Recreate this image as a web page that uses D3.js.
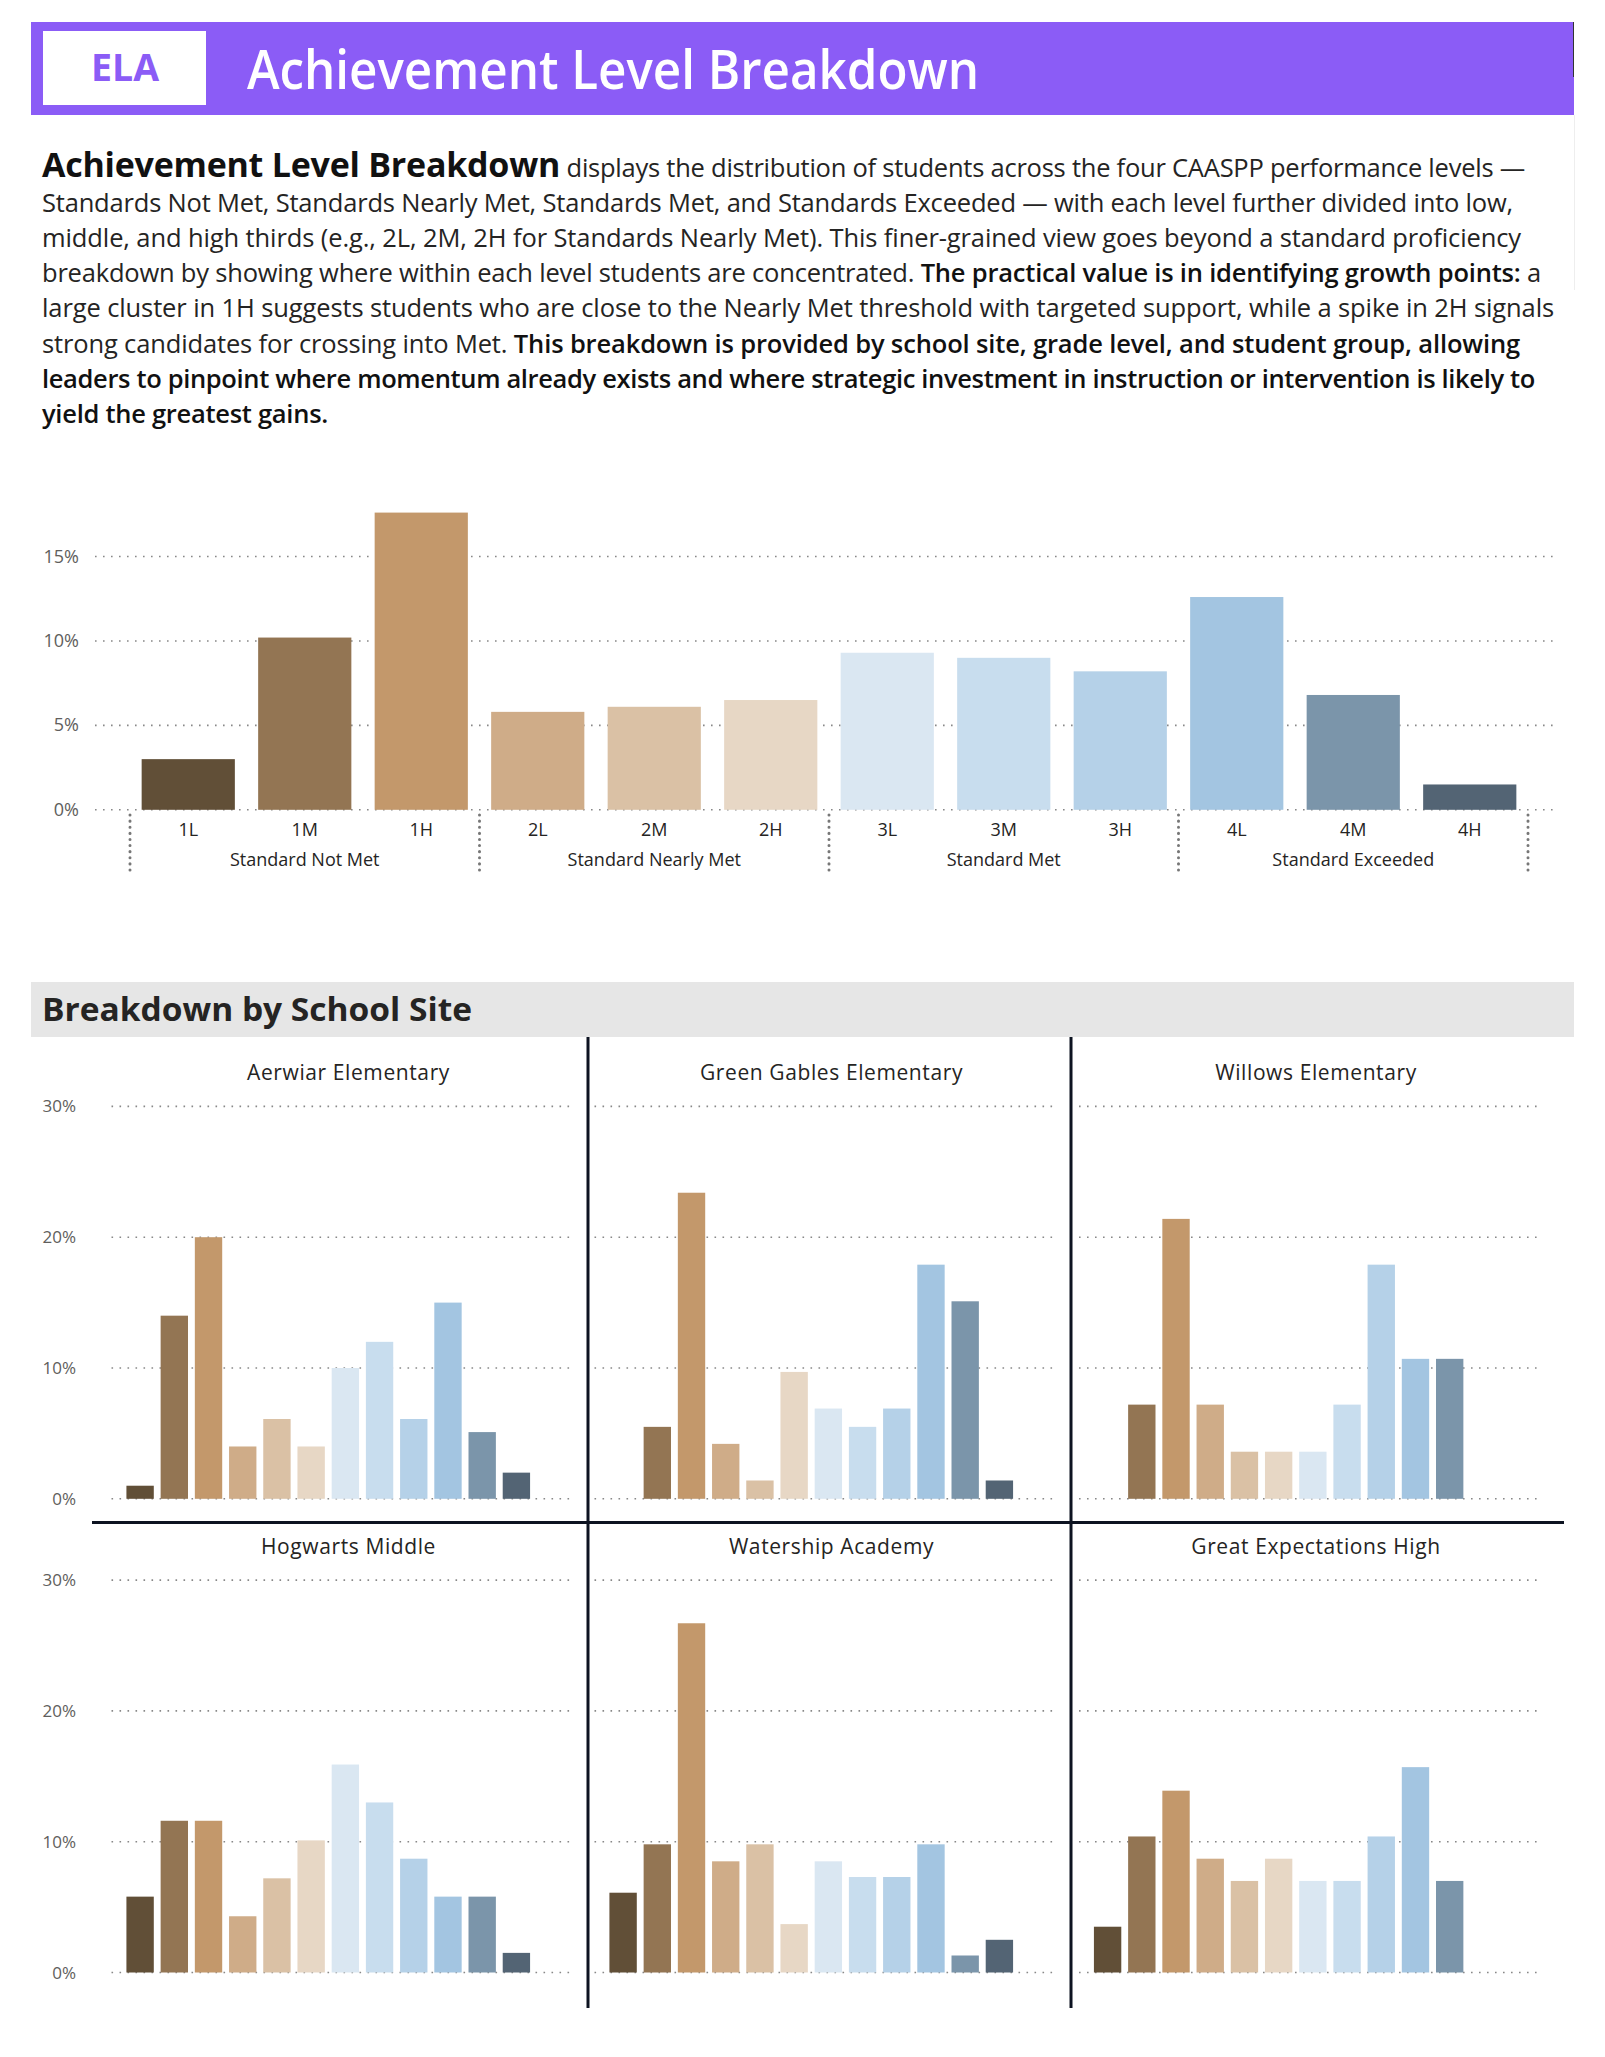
<!DOCTYPE html>
<html>
<head>
<meta charset="utf-8">
<script src="https://cdn.jsdelivr.net/npm/d3@7"></script>
<style>
  body { margin: 0; background: #fff; }
  svg text { font-family: "Open Sans", "Noto Sans", sans-serif; }
</style>
</head>
<body>
<svg id="page" width="1605" height="2057"></svg>
<script>
// categories and colours
var levels = ["1L", "1M", "1H", "2L", "2M", "2H", "3L", "3M", "3H", "4L", "4M", "4H"];
var groups = ["Standard Not Met", "Standard Nearly Met", "Standard Met", "Standard Exceeded"];
var colors = ["#614f37", "#937553", "#c3986b", "#cfac88", "#dac1a5", "#e7d7c5",
              "#dae7f2", "#c8ddee", "#b5d1e8", "#a3c5e1", "#7b95aa", "#536474"];

// overall distribution (%)
var overall = [3.0, 10.2, 17.6, 5.8, 6.1, 6.5, 9.3, 9.0, 8.2, 12.6, 6.8, 1.5];
var overallTicks = [0, 5, 10, 15];

// by school site (%)
var schools = ["Aerwiar Elementary", "Green Gables Elementary", "Willows Elementary",
               "Hogwarts Middle", "Watership Academy", "Great Expectations High"];
var aerwiar = [1.0, 14.0, 20.0, 4.0, 6.1, 4.0, 10.0, 12.0, 6.1, 15.0, 5.1, 2.0];
var greenGables = [0, 5.5, 23.4, 4.2, 1.4, 9.7, 6.9, 5.5, 6.9, 17.9, 15.1, 1.4];
var willows = [0, 7.2, 21.4, 7.2, 3.6, 3.6, 3.6, 7.2, 17.9, 10.7, 10.7, 0];
var hogwarts = [5.8, 11.6, 11.6, 4.3, 7.2, 10.1, 15.9, 13.0, 8.7, 5.8, 5.8, 1.5];
var watership = [6.1, 9.8, 26.7, 8.5, 9.8, 3.7, 8.5, 7.3, 7.3, 9.8, 1.3, 2.5];
var greatExpect = [3.5, 10.4, 13.9, 8.7, 7.0, 8.7, 7.0, 7.0, 10.4, 15.7, 7.0, 0];
var schoolTicks = [0, 10, 20, 30];

var svg = d3.select("#page");
var purple = "#8b5cf6";
var dark = "#252423";

// ---- header band
svg.append("rect").attr("x", 31).attr("y", 22).attr("width", 1543).attr("height", 93).attr("fill", purple);
svg.append("line").attr("x1", 1573.5).attr("x2", 1573.5).attr("y1", 22).attr("y2", 77)
    .attr("stroke", "#333").attr("stroke-width", 1);
svg.append("line").attr("x1", 1574.5).attr("x2", 1574.5).attr("y1", 115).attr("y2", 290)
    .attr("stroke", "#eee").attr("stroke-width", 1);
svg.append("rect").attr("x", 43).attr("y", 31).attr("width", 163).attr("height", 74).attr("fill", "#fff");
svg.append("text").attr("x", 125).attr("y", 81).attr("text-anchor", "middle")
    .attr("fill", purple).attr("font-size", 38).attr("font-weight", 700)
    .attr("textLength", 68).attr("lengthAdjust", "spacingAndGlyphs").text("ELA");
svg.append("text").attr("x", 247).attr("y", 89).attr("fill", "#fff").attr("font-size", 54)
    .attr("font-weight", 600)
    .attr("textLength", 732).attr("lengthAdjust", "spacingAndGlyphs").text("Achievement Level Breakdown");

// ---- description paragraph: each line fitted to the reference width
var para = [
  { w: 1483, parts: [["Achievement Level Breakdown", 700, 34], [" displays the distribution of students across the four CAASPP performance levels \u2014", 400, 25.5]] },
  { w: 1471, parts: [["Standards Not Met, Standards Nearly Met, Standards Met, and Standards Exceeded \u2014 with each level further divided into low,", 400, 25.5]] },
  { w: 1479, parts: [["middle, and high thirds (e.g., 2L, 2M, 2H for Standards Nearly Met). This finer-grained view goes beyond a standard proficiency", 400, 25.5]] },
  { w: 1499, parts: [["breakdown by showing where within each level students are concentrated. ", 400, 25.5], ["The practical value is in identifying growth points:", 600, 25.5], [" a", 400, 25.5]] },
  { w: 1512, parts: [["large cluster in 1H suggests students who are close to the Nearly Met threshold with targeted support, while a spike in 2H signals", 400, 25.5]] },
  { w: 1478, parts: [["strong candidates for crossing into Met. ", 400, 25.5], ["This breakdown is provided by school site, grade level, and student group, allowing", 600, 25.5]] },
  { w: 1493, parts: [["leaders to pinpoint where momentum already exists and where strategic investment in instruction or intervention is likely to", 600, 25.5]] },
  { w: 286, parts: [["yield the greatest gains.", 600, 25.5]] }
];
var paraG = svg.append("g");
para.forEach(function(line, i) {
  var yy = 177 + i * 35.1;
  var nodes = line.parts.map(function(p) {
    return paraG.append("text").attr("y", yy)
        .style("white-space", "pre")
        .attr("font-weight", p[1]).attr("font-size", p[2])
        .attr("fill", p[1] > 400 ? "#111" : "#252423").text(p[0]);
  });
  var natural = d3.sum(nodes, function(n) { return n.node().getComputedTextLength(); });
  var chars = d3.sum(line.parts, function(p) { return p[0].length; });
  var ls = (line.w - natural) / chars;
  var cx = 42;
  nodes.forEach(function(n, j) {
    n.attr("letter-spacing", ls).attr("x", cx);
    cx += n.node().getComputedTextLength();
  });
});

// ---- overall chart
var x = d3.scaleBand().domain(levels).range([130, 1528]).paddingInner(0.2).paddingOuter(0.1);
var y = d3.scaleLinear().domain([0, 15]).range([809.8, 556.5]);

svg.append("g").selectAll("line").data(overallTicks).enter().append("line")
    .attr("x1", 95).attr("x2", 1559)
    .attr("y1", function(d) { return y(d); }).attr("y2", function(d) { return y(d); })
    .attr("stroke", "#888").attr("stroke-width", 1.6).attr("stroke-dasharray", "1.6,6.4");

svg.append("g").selectAll("text").data(overallTicks).enter().append("text")
    .attr("x", 79).attr("y", function(d) { return y(d) + 6; })
    .attr("text-anchor", "end").attr("font-size", 18).attr("fill", "#605e5c")
    .text(function(d) { return d + "%"; });

svg.append("g").selectAll("rect").data(overall).enter().append("rect")
    .attr("x", function(d, i) { return x(levels[i]); })
    .attr("width", x.bandwidth())
    .attr("y", function(d) { return y(d); })
    .attr("height", function(d) { return y(0) - y(d); })
    .attr("fill", function(d, i) { return colors[i]; });

svg.append("g").selectAll("text").data(levels).enter().append("text")
    .attr("x", function(d) { return x(d) + x.bandwidth() / 2; })
    .attr("y", 836).attr("text-anchor", "middle")
    .attr("font-size", 18).attr("fill", dark).text(function(d) { return d; });

var sepX = d3.range(0, 13, 3).map(function(i) { return 130 + i * x.step(); });
svg.append("g").selectAll("line").data(sepX).enter().append("line")
    .attr("x1", function(d) { return d; }).attr("x2", function(d) { return d; })
    .attr("y1", 815).attr("y2", 876)
    .attr("stroke", "#777").attr("stroke-width", 3)
    .attr("stroke-linecap", "round").attr("stroke-dasharray", "0.1,6");

svg.append("g").selectAll("text").data(groups).enter().append("text")
    .attr("x", function(d, i) { return (sepX[i] + sepX[i + 1]) / 2; })
    .attr("y", 866).attr("text-anchor", "middle")
    .attr("font-size", 18).attr("fill", dark).text(function(d) { return d; });

// ---- section header
svg.append("rect").attr("x", 31).attr("y", 982).attr("width", 1543).attr("height", 55).attr("fill", "#e6e6e6");
svg.append("text").attr("x", 42).attr("y", 1021).attr("font-size", 33).attr("font-weight", 700)
    .attr("fill", dark).attr("textLength", 430).attr("lengthAdjust", "spacingAndGlyphs")
    .text("Breakdown by School Site");

// ---- small multiples
var schoolData = [aerwiar, greenGables, willows, hogwarts, watership, greatExpect];
var panelX = [111.5, 594.5, 1079];
var rowZero = [1498.8, 1972.5];
var titleY = [1080, 1554];

schoolData.forEach(function(vals, k) {
  var col = k % 3, row = Math.floor(k / 3);
  var g0 = panelX[col];
  var px = d3.scaleBand().domain(levels).range([g0 + 11.5, g0 + 422]).paddingInner(0.2).paddingOuter(0.1);
  var py = d3.scaleLinear().domain([0, 30]).range([rowZero[row], rowZero[row] - 392.4]);
  var p = svg.append("g");

  p.selectAll("line.grid").data(schoolTicks).enter().append("line")
      .attr("x1", g0).attr("x2", g0 + 460)
      .attr("y1", function(d) { return py(d); }).attr("y2", function(d) { return py(d); })
      .attr("stroke", "#888").attr("stroke-width", 1.6).attr("stroke-dasharray", "1.6,6.4");

  if (col === 0) {
    p.selectAll("text.tick").data(schoolTicks).enter().append("text")
        .attr("x", 76).attr("y", function(d) { return py(d) + 6; })
        .attr("text-anchor", "end").attr("font-size", 17).attr("fill", "#605e5c")
        .text(function(d) { return d + "%"; });
  }

  p.selectAll("rect").data(vals).enter().append("rect")
      .attr("x", function(d, i) { return px(levels[i]); })
      .attr("width", px.bandwidth())
      .attr("y", function(d) { return py(d); })
      .attr("height", function(d) { return py(0) - py(d); })
      .attr("fill", function(d, i) { return colors[i]; });

  p.append("text").attr("x", g0 + 237).attr("y", titleY[row])
      .attr("text-anchor", "middle").attr("font-size", 21).attr("font-weight", 500)
      .attr("letter-spacing", 0.6)
      .attr("fill", dark).text(schools[k]);
});

// panel dividers
var divColor = "#0d1321";
[588, 1071].forEach(function(xx) {
  svg.append("line").attr("x1", xx).attr("x2", xx).attr("y1", 1037).attr("y2", 2008)
      .attr("stroke", divColor).attr("stroke-width", 3);
});
svg.append("line").attr("x1", 92).attr("x2", 1564).attr("y1", 1522.5).attr("y2", 1522.5)
    .attr("stroke", divColor).attr("stroke-width", 3);
</script>
</body>
</html>
